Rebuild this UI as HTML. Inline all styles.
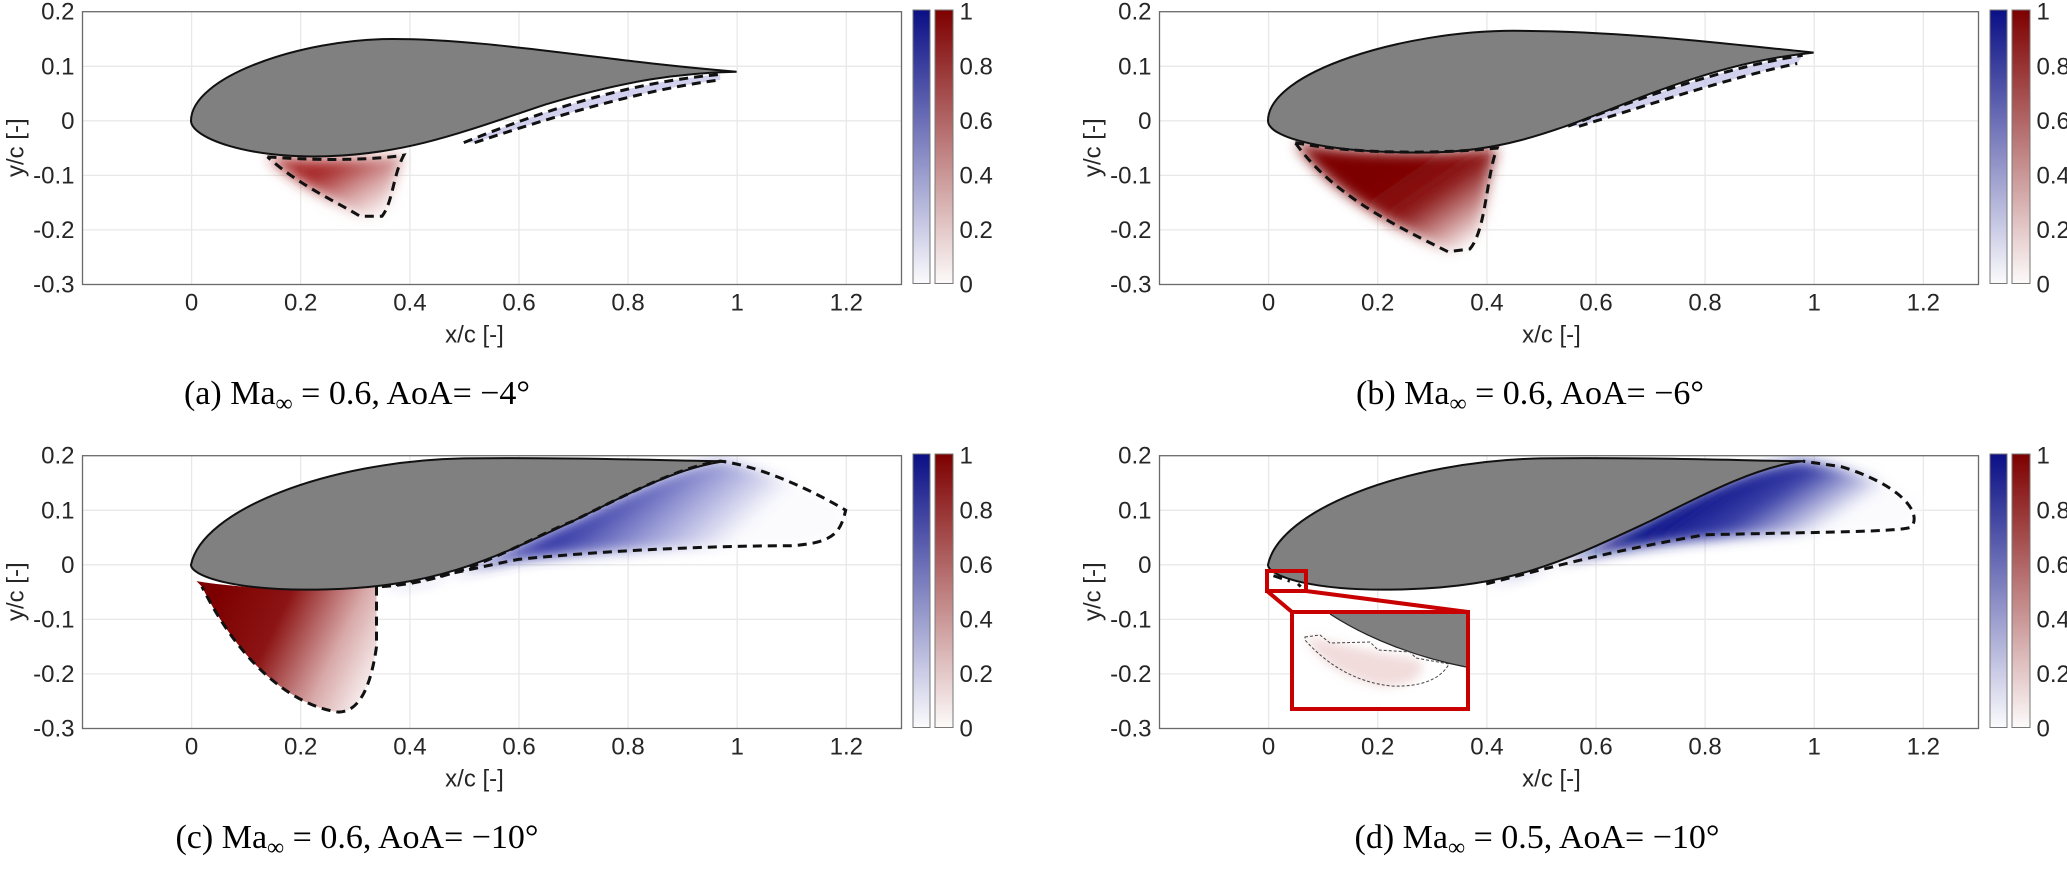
<!DOCTYPE html>
<html><head><meta charset="utf-8"><style>
html,body{margin:0;padding:0;background:#fff}
svg{display:block}
.t{font-family:"Liberation Sans",Arial,sans-serif;font-size:24px;fill:#262626}
.cap{font-family:"Liberation Serif","Times New Roman",serif;font-size:34px;fill:#000}
</style></head><body>
<svg width="2067" height="874" viewBox="0 0 2067 874" xmlns="http://www.w3.org/2000/svg">
<defs>
<linearGradient id="cbB" x1="0" y1="1" x2="0" y2="0"><stop offset="0" stop-color="#fbfbfd"/><stop offset="1" stop-color="#0a0f85"/></linearGradient>
<linearGradient id="cbR" x1="0" y1="1" x2="0" y2="0"><stop offset="0" stop-color="#fdfafa"/><stop offset="1" stop-color="#7d0000"/></linearGradient>
<filter id="bl" x="-20%" y="-20%" width="140%" height="140%"><feGaussianBlur stdDeviation="0.012"/></filter>
<filter id="blp" x="-20%" y="-20%" width="140%" height="140%"><feGaussianBlur stdDeviation="5"/></filter>
<g id="axes">
<rect x="0" y="0" width="819" height="272.8" fill="#fff"/>
<g stroke="#e8e8e8" stroke-width="1.3">
<line x1="109.1" y1="0" x2="109.1" y2="272.8"/><line x1="218.2" y1="0" x2="218.2" y2="272.8"/><line x1="327.4" y1="0" x2="327.4" y2="272.8"/><line x1="436.5" y1="0" x2="436.5" y2="272.8"/><line x1="545.6" y1="0" x2="545.6" y2="272.8"/><line x1="654.7" y1="0" x2="654.7" y2="272.8"/><line x1="763.8" y1="0" x2="763.8" y2="272.8"/>
<line x1="0" y1="54.6" x2="819" y2="54.6"/><line x1="0" y1="109.1" x2="819" y2="109.1"/><line x1="0" y1="163.7" x2="819" y2="163.7"/><line x1="0" y1="218.2" x2="819" y2="218.2"/>
</g>
<rect x="830.5" y="-1.7" width="17" height="273.5" fill="url(#cbB)" stroke="#777" stroke-width="1"/>
<rect x="852.5" y="-1.7" width="18" height="273.5" fill="url(#cbR)" stroke="#777" stroke-width="1"/>
</g>
<g id="box"><rect x="0" y="0" width="819" height="272.8" fill="none" stroke="#6a6a6a" stroke-width="1.3"/></g>
<g id="labels">
<g class="t" text-anchor="end">
<text x="-8" y="8">0.2</text><text x="-8" y="62.6">0.1</text><text x="-8" y="117.1">0</text><text x="-8" y="171.7">-0.1</text><text x="-8" y="226.2">-0.2</text><text x="-8" y="280.8">-0.3</text>
</g>
<g class="t" text-anchor="middle">
<text x="109.1" y="299">0</text><text x="218.2" y="299">0.2</text><text x="327.4" y="299">0.4</text><text x="436.5" y="299">0.6</text><text x="545.6" y="299">0.8</text><text x="654.7" y="299">1</text><text x="763.8" y="299">1.2</text>
<text x="392" y="331">x/c [-]</text>
<text transform="translate(-59,136) rotate(-90)">y/c [-]</text>
</g>
<g class="t">
<text x="877" y="8">1</text><text x="877" y="62.6">0.8</text><text x="877" y="117.2">0.6</text><text x="877" y="171.8">0.4</text><text x="877" y="226.4">0.2</text><text x="877" y="281">0</text>
</g>
</g>
<clipPath id="cp"><rect x="-0.2" y="-0.3" width="1.5" height="0.5"/></clipPath>
</defs>

<!-- Panel a -->
<g transform="translate(82.5,11.7)"><use href="#axes"/></g>
<g transform="translate(191,120.8) scale(545.6,-545.6)" clip-path="url(#cp)">
<linearGradient id="ga" gradientUnits="userSpaceOnUse" x1="0.27" y1="-0.08" x2="0.33" y2="-0.18"><stop offset="0" stop-color="#a82a2a"/><stop offset="0.5" stop-color="#d49a9a"/><stop offset="1" stop-color="#fbf2f2"/></linearGradient>
<path d="M0.14,-0.066 C0.25,-0.075 0.35,-0.07 0.39,-0.063 C0.37,-0.1 0.37,-0.15 0.35,-0.175 L0.31,-0.175 C0.27,-0.15 0.2,-0.12 0.14,-0.066Z" fill="url(#ga)" filter="url(#bl)"/>
<path d="M0.5,-0.04 C0.65,0.02 0.8,0.07 0.97,0.085 L0.97,0.075 C0.85,0.06 0.7,0.02 0.52,-0.04Z" fill="#b4b4e4" opacity="0.6"/>
<path d="M0,0 C0,0.08 0.2,0.15 0.37,0.15 C0.55,0.15 0.75,0.11 1,0.09 C0.9,0.088 0.8,0.075 0.65,0.03 C0.5,-0.02 0.4,-0.06 0.25,-0.065 C0.1,-0.07 0,-0.03 0,0Z" fill="#808080" stroke="#111" stroke-width="2" vector-effect="non-scaling-stroke"/>
<g fill="none" stroke="#111" stroke-width="3" stroke-dasharray="9,6">
<path d="M0.14,-0.066 C0.25,-0.075 0.35,-0.07 0.39,-0.063 C0.37,-0.1 0.37,-0.15 0.35,-0.175 L0.31,-0.175 C0.27,-0.15 0.2,-0.12 0.14,-0.066" vector-effect="non-scaling-stroke"/>
<path d="M0.5,-0.04 C0.65,0.02 0.8,0.07 0.97,0.085" vector-effect="non-scaling-stroke"/>
<path d="M0.52,-0.04 C0.7,0.02 0.85,0.06 0.97,0.075" vector-effect="non-scaling-stroke"/>
</g></g>
<g transform="translate(82.5,11.7)"><use href="#box"/><use href="#labels"/></g>

<!-- Panel b -->
<g transform="translate(1159.5,11.7)"><use href="#axes"/></g>
<g transform="translate(1268,120.8) scale(545.6,-545.6)" clip-path="url(#cp)">
<linearGradient id="gb" gradientUnits="userSpaceOnUse" x1="0.25" y1="-0.08" x2="0.36" y2="-0.24"><stop offset="0" stop-color="#7d0000"/><stop offset="0.4" stop-color="#8e1a1a"/><stop offset="0.8" stop-color="#dcb0b0"/><stop offset="1" stop-color="#fff"/></linearGradient>
<path d="M0.05,-0.04 C0.15,-0.06 0.3,-0.062 0.42,-0.05 C0.4,-0.1 0.4,-0.2 0.37,-0.235 L0.33,-0.24 C0.25,-0.2 0.12,-0.14 0.05,-0.04Z" fill="url(#gb)" filter="url(#bl)"/>
<path d="M0.55,-0.01 C0.7,0.05 0.85,0.1 0.98,0.12 L0.97,0.105 C0.85,0.08 0.7,0.03 0.57,-0.01Z" fill="#b4b4e4" opacity="0.6"/>
<path d="M0,0 C0,0.09 0.25,0.165 0.45,0.165 C0.65,0.165 0.85,0.14 1,0.125 C0.9,0.115 0.8,0.09 0.65,0.03 C0.5,-0.03 0.42,-0.055 0.3,-0.058 C0.1,-0.06 0,-0.03 0,0Z" fill="#808080" stroke="#111" stroke-width="2" vector-effect="non-scaling-stroke"/>
<g fill="none" stroke="#111" stroke-width="3" stroke-dasharray="9,6">
<path d="M0.05,-0.04 C0.15,-0.06 0.3,-0.062 0.42,-0.05 C0.4,-0.1 0.4,-0.2 0.37,-0.235 L0.33,-0.24 C0.25,-0.2 0.12,-0.14 0.05,-0.04" vector-effect="non-scaling-stroke"/>
<path d="M0.55,-0.01 C0.7,0.05 0.85,0.1 0.98,0.12" vector-effect="non-scaling-stroke"/>
<path d="M0.57,-0.01 C0.7,0.03 0.85,0.08 0.97,0.105" vector-effect="non-scaling-stroke"/>
</g></g>
<g transform="translate(1159.5,11.7)"><use href="#box"/><use href="#labels"/></g>

<!-- Panel c -->
<g transform="translate(82.5,455.7)"><use href="#axes"/></g>
<g transform="translate(191,564.8) scale(545.6,-545.6)" clip-path="url(#cp)">
<linearGradient id="gc" gradientUnits="userSpaceOnUse" x1="0.05" y1="-0.05" x2="0.36" y2="-0.2"><stop offset="0" stop-color="#7d0000"/><stop offset="0.35" stop-color="#8c1414"/><stop offset="0.7" stop-color="#d8a8a8"/><stop offset="1" stop-color="#fff"/></linearGradient>
<linearGradient id="gcb" gradientUnits="userSpaceOnUse" x1="0.8" y1="0.16" x2="0.95" y2="0.0"><stop offset="0" stop-color="#3a3ea8"/><stop offset="0.5" stop-color="#9ea0d8"/><stop offset="1" stop-color="#fbfbfe"/></linearGradient>
<path d="M0.01,-0.03 C0.1,-0.045 0.25,-0.05 0.34,-0.04 L0.34,-0.15 C0.33,-0.22 0.31,-0.27 0.27,-0.27 C0.2,-0.26 0.1,-0.2 0.02,-0.04Z" fill="url(#gc)"/>
<path d="M0.35,-0.04 C0.5,-0.03 0.6,0.04 0.7,0.08 C0.82,0.14 0.9,0.18 0.97,0.19 C1.05,0.18 1.15,0.13 1.2,0.1 C1.19,0.06 1.18,0.04 1.1,0.035 C1.0,0.035 0.8,0.03 0.6,0.01 C0.5,-0.01 0.42,-0.03 0.35,-0.04Z" fill="url(#gcb)" filter="url(#bl)"/>
<path d="M0,0 C0.02,0.1 0.25,0.19 0.5,0.195 C0.7,0.198 0.9,0.19 0.98,0.19 C0.9,0.18 0.82,0.14 0.7,0.08 C0.55,0.01 0.45,-0.04 0.25,-0.045 C0.08,-0.05 0,-0.02 0,0Z" fill="#808080" stroke="#111" stroke-width="2" vector-effect="non-scaling-stroke"/>
<g fill="none" stroke="#111" stroke-width="3" stroke-dasharray="9,6">
<path d="M0.34,-0.04 L0.34,-0.15 C0.33,-0.22 0.31,-0.27 0.27,-0.27 C0.2,-0.26 0.1,-0.2 0.02,-0.04" vector-effect="non-scaling-stroke"/>
<path d="M0.35,-0.04 C0.5,-0.03 0.6,0.04 0.7,0.08 C0.82,0.14 0.9,0.18 0.97,0.19 C1.05,0.18 1.15,0.13 1.2,0.1 C1.19,0.06 1.18,0.04 1.1,0.035 C1.0,0.035 0.8,0.03 0.6,0.01 C0.5,-0.01 0.42,-0.03 0.35,-0.04" vector-effect="non-scaling-stroke"/>
</g></g>
<g transform="translate(82.5,455.7)"><use href="#box"/><use href="#labels"/></g>

<!-- Panel d -->
<g transform="translate(1159.5,455.7)"><use href="#axes"/></g>
<g transform="translate(1268,564.8) scale(545.6,-545.6)" clip-path="url(#cp)">
<linearGradient id="gdb" gradientUnits="userSpaceOnUse" x1="0.85" y1="0.17" x2="0.95" y2="0.02"><stop offset="0" stop-color="#0c1288"/><stop offset="0.45" stop-color="#3a40a8"/><stop offset="1" stop-color="#fbfbfe"/></linearGradient>
<path d="M0.4,-0.035 C0.55,0.0 0.65,0.06 0.75,0.11 C0.85,0.16 0.92,0.185 0.98,0.19 C1.05,0.18 1.15,0.15 1.2,0.11 C1.18,0.07 1.17,0.06 1.1,0.06 C1.0,0.06 0.8,0.055 0.6,0.02 C0.5,0.0 0.45,-0.02 0.4,-0.035Z" fill="url(#gdb)" filter="url(#bl)"/>
<path d="M0,0 C0.02,0.1 0.25,0.19 0.5,0.195 C0.7,0.198 0.9,0.19 0.98,0.19 C0.9,0.18 0.82,0.14 0.7,0.08 C0.55,0.01 0.45,-0.04 0.25,-0.045 C0.08,-0.05 0,-0.02 0,0Z" fill="#808080" stroke="#111" stroke-width="2" vector-effect="non-scaling-stroke"/>
<g fill="none" stroke="#111" stroke-width="3" stroke-dasharray="9,6">
<path d="M0.4,-0.035 C0.5,-0.01 0.6,0.02 0.8,0.055 C1.0,0.06 1.17,0.06 1.18,0.07 C1.2,0.1 1.15,0.15 1.05,0.18 L0.98,0.19" vector-effect="non-scaling-stroke"/>
<path d="M0.01,-0.02 L0.04,-0.03 M0.055,-0.035 L0.06,-0.04" vector-effect="non-scaling-stroke"/>
</g></g>
<g transform="translate(1159.5,455.7)"><use href="#box"/><use href="#labels"/></g>
<!-- inset -->
<rect x="1294" y="614" width="172" height="93" fill="#fff"/>
<path d="M1330,614 L1466,614 L1466,667 C1420,658 1370,640 1330,614Z" fill="#808080"/>
<path d="M1330,614 C1370,640 1420,658 1466,667" fill="none" stroke="#222" stroke-width="1.3"/>
<path d="M1305,637 C1330,640 1360,650 1400,656 L1420,660 C1430,680 1400,688 1380,686 C1350,680 1320,665 1305,637Z" fill="#e8c4c4" opacity="0.6" filter="url(#blp)"/>
<path d="M1305,637 L1320,635 L1330,643 L1370,642 L1378,650 L1410,652 L1416,658 L1449,664 C1440,680 1420,687 1392,686 C1360,683 1330,668 1305,640Z" fill="none" stroke="#444" stroke-width="1" stroke-dasharray="3,2"/>
<g fill="none" stroke="#c80000" stroke-width="4">
<rect x="1267" y="571" width="39" height="20"/>
<rect x="1292" y="612" width="176" height="97"/>
<line x1="1267" y1="591" x2="1292" y2="612"/>
<line x1="1306" y1="591" x2="1468" y2="612"/>
</g>

<!-- captions -->
<g class="cap" text-anchor="middle">
<text x="357" y="404">(a) Ma<tspan font-size="24" dy="7">∞</tspan><tspan dy="-7"> = 0.6, AoA= −4°</tspan></text>
<text x="1530" y="404">(b) Ma<tspan font-size="24" dy="7">∞</tspan><tspan dy="-7"> = 0.6, AoA= −6°</tspan></text>
<text x="357" y="848">(c) Ma<tspan font-size="24" dy="7">∞</tspan><tspan dy="-7"> = 0.6, AoA= −10°</tspan></text>
<text x="1537" y="848">(d) Ma<tspan font-size="24" dy="7">∞</tspan><tspan dy="-7"> = 0.5, AoA= −10°</tspan></text>
</g>
</svg>
</body></html>
